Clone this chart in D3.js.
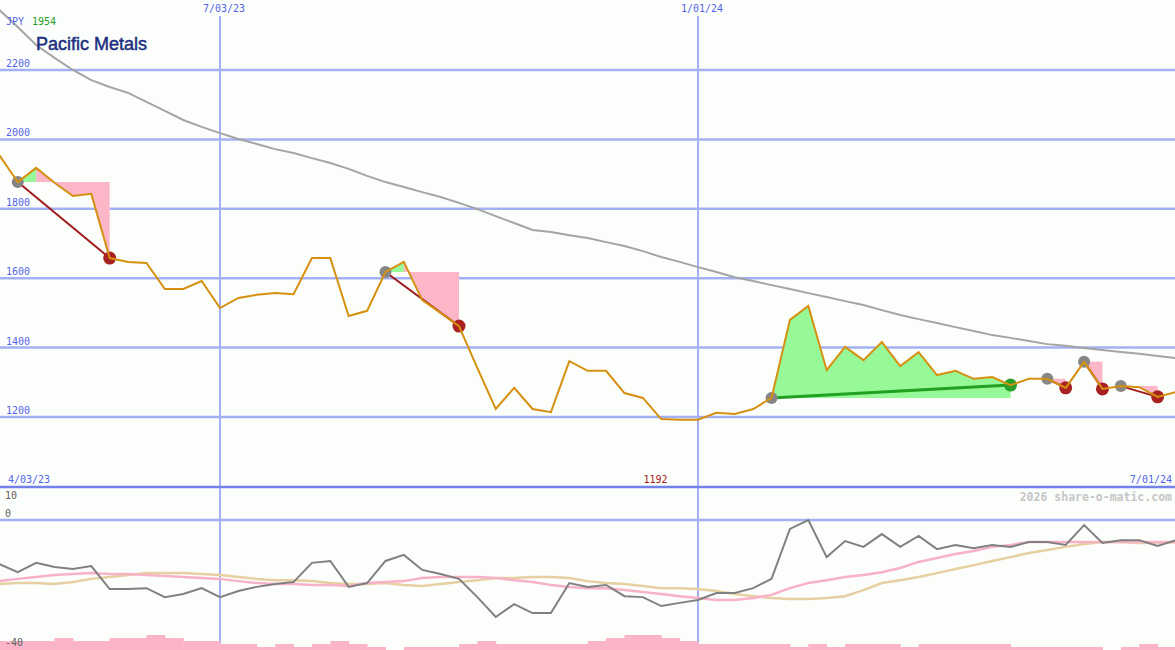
<!DOCTYPE html>
<html><head><meta charset="utf-8">
<script src="https://cdn.jsdelivr.net/npm/d3@7"></script>
<style>html,body{margin:0;padding:0;background:#fcfefc;} svg{display:block}</style>
</head><body>
<svg id="c" width="1175" height="650"></svg>
<script>
// ---------- data ----------
const startDate = "2023-04-10";   // first weekly bar
const weeks = 65;
const price = [1954,1877,1918,1875,1837,1843,1658,1647,1644,1569,
               1569,1592,1514,1543,1552,1557,1554,1658,1658,1491,
               1506,1618,1647,1537,1500,1462,1341,1223,1284,1223,
               1214,1361,1333,1333,1269,1255,1194,1192,1192,1212,
               1209,1223,1255,1480,1520,1335,1402,1364,1416,1347,
               1387,1321,1333,1310,1315,1292,1310,1310,1284,1359,
               1281,1289,1286,1258,1272];
const movingAvg = [2373,2324,2272,2235,2200,2171,2151,2134,2108,2082,
                   2056,2036,2018,2001,1987,1972,1961,1946,1932,1915,
                   1895,1877,1863,1848,1834,1817,1799,1779,1759,1739,
                   1733,1724,1716,1704,1693,1678,1661,1647,1632,1618,
                   1603,1592,1580,1569,1557,1546,1534,1523,1508,1494,
                   1482,1471,1459,1448,1436,1428,1419,1410,1405,1399,
                   1393,1387,1382,1376,1370];
const oscMain = [-13.8,-16.3,-13.4,-14.7,-15.3,-14.4,-21.6,-21.6,-21.3,-24.1,
                 -23.1,-21.3,-24.1,-22.2,-20.9,-20.0,-19.4,-13.4,-12.8,-20.9,
                 -19.7,-12.8,-10.9,-15.6,-16.9,-18.4,-24.1,-30.3,-26.3,-29.1,
                 -29.1,-19.7,-20.9,-20.3,-23.8,-24.1,-26.9,-25.9,-25.0,-22.8,
                 -22.8,-21.3,-18.4,-2.8,0.0,-11.6,-6.6,-8.4,-4.4,-8.4,
                 -5.0,-9.1,-7.8,-8.8,-7.8,-8.4,-6.9,-6.9,-7.8,-1.6,
                 -7.2,-6.3,-6.3,-8.1,-6.3];
const oscFast = [-19.1,-18.4,-17.8,-17.2,-16.9,-16.6,-16.9,-16.9,-17.2,-17.5,
                 -17.8,-18.1,-18.4,-19.1,-19.7,-20.0,-20.0,-20.3,-20.3,-20.6,
                 -19.7,-19.4,-19.1,-18.1,-17.8,-17.8,-17.8,-18.1,-18.8,-19.4,
                 -20.3,-20.9,-21.3,-21.3,-21.9,-22.5,-23.1,-23.8,-24.4,-25.0,
                 -25.0,-24.4,-23.4,-21.3,-19.7,-18.8,-17.8,-17.2,-16.3,-15.0,
                 -13.1,-11.9,-10.6,-9.7,-8.4,-7.8,-6.9,-6.9,-6.9,-6.9,
                 -6.9,-6.9,-6.9,-6.9,-6.9];
const oscSlow = [-20.0,-19.7,-19.7,-20.0,-19.4,-18.4,-17.8,-17.2,-16.6,-16.6,
                 -16.6,-16.9,-17.2,-17.8,-18.4,-18.8,-18.8,-19.1,-19.7,-20.0,
                 -20.0,-19.7,-20.3,-20.6,-20.0,-19.4,-18.8,-18.1,-18.1,-17.8,
                 -17.8,-18.1,-19.1,-19.7,-20.0,-20.6,-21.3,-21.3,-21.6,-22.2,
                 -23.1,-23.8,-24.4,-24.7,-24.7,-24.4,-23.8,-21.9,-19.7,-18.8,
                 -17.8,-16.6,-15.3,-14.1,-12.8,-11.6,-10.3,-9.4,-8.4,-7.5,
                 -6.9,-6.9,-7.2,-7.2,-6.9];
const volLevels = [3,3,3,4,3,3,4,4,5,4, 3,3,2,2,1,2,1,2,3,2,
                   1,0,1,1,1,2,3,2,2,2, 2,2,3,4,5,5,4,3,2,2,
                   2,2,2,1,2,1,2,2,2,1, 2,2,2,2,2,1,1,1,1,1,
                   0,1,2,1];
const priceTicks = [1200,1400,1600,1800,2000,2200];
const gridDates = ["2023-07-03","2024-01-01"];
const gridDateLabels = ["7/03/23","1/01/24"];
const lowTicks = [10,0,-40];
const tradeEntry = [1,21,42,57,59,61];
const tradeExit  = [6,25,55,58,60,63];

// ---------- scales ----------
const W = 1175, H = 650;
const svg = d3.select("#c");
const dates = d3.range(weeks).map(i => d3.utcDay.offset(new Date(startDate), 7*i));
const x = d3.scaleUtc().domain([new Date(gridDates[0]), new Date(gridDates[1])]).range([220, 698]);
const y = d3.scaleLinear().domain([1200, 2200]).range([417, 70]);
const yLow = d3.scaleLinear().domain([-40, 10]).range([648, 488]);
const yVol = d3.scaleLinear().domain([0, 5]).range([650, 635]);
const X = i => x(dates[i]);

const mono = "'DejaVu Sans Mono', monospace";
svg.append("rect").attr("width", W).attr("height", H).attr("fill", "#fcfefc");

// grid
svg.selectAll(".hg").data(priceTicks).join("line")
  .attr("x1", 0).attr("x2", W).attr("y1", d => y(d)).attr("y2", d => y(d))
  .attr("stroke", "#a4b0f4").attr("stroke-width", 2.5);
svg.selectAll(".vg").data(gridDates).join("line")
  .attr("x1", d => x(new Date(d))).attr("x2", d => x(new Date(d)))
  .attr("y1", 16).attr("y2", H)
  .attr("stroke", "#a4b0f4").attr("stroke-width", 2);
svg.append("line").attr("x1", 0).attr("x2", W).attr("y1", yLow(10) - 1).attr("y2", yLow(10) - 1)
  .attr("stroke", "#7282ea").attr("stroke-width", 2.5);
svg.append("line").attr("x1", 0).attr("x2", W).attr("y1", yLow(0)).attr("y2", yLow(0))
  .attr("stroke", "#a4b0f4").attr("stroke-width", 2.5);

// long moving average
svg.append("path").datum(d3.range(weeks))
  .attr("d", d3.line().x(X).y(i => y(movingAvg[i])))
  .attr("fill", "none").attr("stroke", "#a4a4a4").attr("stroke-width", 2);

// trade fills
tradeEntry.forEach((e, k) => {
  const ex = tradeExit[k];
  const level = price[e];
  const win = price[ex] > level;
  const seg = d3.range(e, ex + 1);
  const peak = seg[d3.maxIndex(seg, i => price[i])];
  const area = d3.area().x(X).y0(y(level)).y1(i => y(price[i]));
  if (win) {
    svg.append("path").datum(seg).attr("d", area).attr("fill", "#96f896");
  } else {
    if (peak > e) svg.append("path").datum(d3.range(e, peak + 1)).attr("d", area).attr("fill", "#96f896");
    svg.append("path").datum(d3.range(peak, ex + 1)).attr("d", area).attr("fill", "#fbb6c8");
  }
});

// trade lines
tradeEntry.forEach((e, k) => {
  const ex = tradeExit[k];
  const win = price[ex] > price[e];
  svg.append("line").attr("x1", X(e)).attr("y1", y(price[e])).attr("x2", X(ex)).attr("y2", y(price[ex]))
    .attr("stroke", win ? "#22a022" : "#a01c1c").attr("stroke-width", win ? 3 : 2);
});

// dots
tradeEntry.forEach((e, k) => {
  const ex = tradeExit[k];
  const win = price[ex] > price[e];
  svg.append("circle").attr("cx", X(e)).attr("cy", y(price[e])).attr("r", 6).attr("fill", "#868686");
  svg.append("circle").attr("cx", X(ex)).attr("cy", y(price[ex])).attr("r", 6.5).attr("fill", win ? "#2a9e2a" : "#a82222");
});

// price line
svg.append("path").datum(d3.range(weeks))
  .attr("d", d3.line().x(X).y(i => y(price[i])))
  .attr("fill", "none").attr("stroke", "#d69010").attr("stroke-width", 2);

// lower panel
svg.selectAll(".vb").data(volLevels).join("rect")
  .attr("x", (d, i) => X(i)).attr("width", (d, i) => X(i + 1) - X(i) + 0.5)
  .attr("y", d => yVol(d)).attr("height", d => yVol(0) - yVol(d))
  .attr("fill", "#fbb4c8");
const lowLine = arr => d3.line().x(X).y(i => yLow(arr[i]));
svg.append("path").datum(d3.range(weeks)).attr("d", lowLine(oscSlow))
  .attr("fill", "none").attr("stroke", "#e6cfa0").attr("stroke-width", 2.5);
svg.append("path").datum(d3.range(weeks)).attr("d", lowLine(oscFast))
  .attr("fill", "none").attr("stroke", "#f8b2c8").attr("stroke-width", 2.5);
svg.append("path").datum(d3.range(weeks)).attr("d", lowLine(oscMain))
  .attr("fill", "none").attr("stroke", "#808080").attr("stroke-width", 2);

// texts
svg.selectAll(".pt").data(priceTicks).join("text")
  .attr("x", 6).attr("y", d => y(d) - 3).text(d => d)
  .attr("font-family", mono).attr("font-size", 10).attr("fill", "#5464ea");
svg.selectAll(".dt").data(gridDates).join("text")
  .attr("x", d => x(new Date(d)) + 4).attr("y", 12).attr("text-anchor", "middle")
  .text((d, i) => gridDateLabels[i])
  .attr("font-family", mono).attr("font-size", 10).attr("fill", "#5464ea");
svg.append("text").attr("x", 6).attr("y", 25).text("JPY")
  .attr("font-family", mono).attr("font-size", 10).attr("fill", "#5464ea");
svg.append("text").attr("x", 32).attr("y", 25).text(price[0])
  .attr("font-family", mono).attr("font-size", 10).attr("fill", "#1c9c1c");
svg.append("text").attr("x", 36).attr("y", 50).text("Pacific Metals")
  .attr("font-family", "'Liberation Sans', Arial, sans-serif").attr("font-size", 18)
  .attr("fill", "#1c2f80").attr("stroke", "#1c2f80").attr("stroke-width", 0.5);

svg.append("text").attr("x", 8).attr("y", 483).text("4/03/23")
  .attr("font-family", mono).attr("font-size", 10).attr("fill", "#5464ea");
svg.append("text").attr("x", W - 3).attr("y", 483).attr("text-anchor", "end").text("7/01/24")
  .attr("font-family", mono).attr("font-size", 10).attr("fill", "#5464ea");
const minIdx = d3.minIndex(price);
svg.append("text").attr("x", X(minIdx) - 24).attr("y", 483).attr("text-anchor", "middle").text(price[minIdx])
  .attr("font-family", mono).attr("font-size", 10).attr("fill", "#a81818");
svg.append("text").attr("x", W - 3).attr("y", 501).attr("text-anchor", "end").text("2026 share-o-matic.com")
  .attr("font-family", mono).attr("font-size", 11.5).attr("font-weight", "bold").attr("fill", "#c6c6c6");

const lowLabelY = [499, 517, 646];
svg.selectAll(".lt").data(lowTicks).join("text")
  .attr("x", 5).attr("y", (d, i) => lowLabelY[i]).text(d => d)
  .attr("font-family", mono).attr("font-size", 10).attr("fill", "#606060");
</script>
</body></html>
